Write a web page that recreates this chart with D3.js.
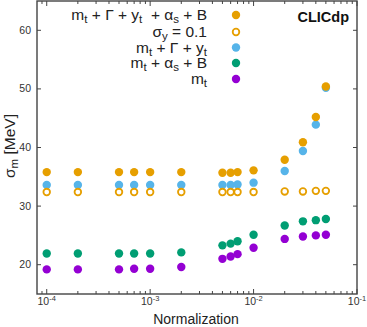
<!DOCTYPE html>
<html>
<head>
<meta charset="utf-8">
<script src="https://cdn.jsdelivr.net/npm/d3@7"></script>
<style>
  body { margin: 0; background: #fff; }
  svg { font-family: "Liberation Sans", Arial, sans-serif; }
</style>
</head>
<body>
<svg id="chart" width="367" height="327"></svg>
<script>
// data
var normalization = [1e-4, 2e-4, 5e-4, 7e-4, 1e-3, 2e-3, 5e-3, 6e-3, 7e-3, 1e-2, 2e-2, 3e-2, 4e-2, 5e-2];
var allParams   = [35.8, 35.8, 35.8, 35.8, 35.8, 35.8, 35.7, 35.7, 35.8, 36.1, 37.9, 40.9, 45.2, 50.4];
var sigmaY01    = [32.4, 32.4, 32.4, 32.4, 32.4, 32.4, 32.4, 32.4, 32.4, 32.4, 32.5, 32.5, 32.6, 32.6];
var mtGammaYt   = [33.6, 33.6, 33.6, 33.6, 33.6, 33.6, 33.6, 33.6, 33.7, 34.0, 36.0, 39.4, 43.9, 50.2];
var mtAlphaB    = [21.9, 21.9, 21.9, 21.9, 21.9, 22.1, 23.3, 23.6, 24.0, 25.1, 26.7, 27.4, 27.6, 27.8];
var mtOnly      = [19.2, 19.2, 19.2, 19.3, 19.3, 19.6, 21.0, 21.4, 21.8, 22.9, 24.4, 24.8, 25.0, 25.1];
var yTicks = [20, 30, 40, 50, 60];
var xTickExps = [-4, -3, -2, -1];

// legend rows, top to bottom; label parts: [text, isSubscript]
var series = [
  {values: allParams, color: "#E69F00", open: false,
   label: [["m", 0], ["t", 1], [" + \u0393 + y", 0], ["t", 1], ["\u00a0 + \u03b1", 0], ["s", 1], [" + B", 0]]},
  {values: sigmaY01,  color: "#E69F00", open: true,
   label: [["\u03c3", 0], ["y", 1], [" = 0.1", 0]]},
  {values: mtGammaYt, color: "#56B4E9", open: false,
   label: [["m", 0], ["t", 1], [" + \u0393 + y", 0], ["t", 1]]},
  {values: mtAlphaB,  color: "#009E73", open: false,
   label: [["m", 0], ["t", 1], [" + \u03b1", 0], ["s", 1], [" + B", 0]]},
  {values: mtOnly,    color: "#9400D3", open: false,
   label: [["m", 0], ["t", 1]]}
];

var svg = d3.select("#chart");
var pl = 37, pr = 357, pt = 1, pb = 294;

var x = d3.scaleLog().domain([Math.pow(10, -4.094), 0.1]).range([pl, pr]);
var y = d3.scaleLinear().domain([15, 65]).range([pb, pt]);

// frame
svg.append("rect")
  .attr("x", pl).attr("y", pt)
  .attr("width", pr - pl).attr("height", pb - pt)
  .attr("fill", "none").attr("stroke", "#444").attr("stroke-width", 1.4);

// x ticks (major + minor) on bottom and top, inward
var xt = [];
for (var e = -5; e < -1; e++) {
  for (var m = 1; m < 10; m++) {
    var v = m * Math.pow(10, e);
    if (v >= x.domain()[0] && v <= 0.1) xt.push({v: v, major: m === 1});
  }
}
xt.push({v: 0.1, major: true});
svg.selectAll(".xtb").data(xt).enter().append("line")
  .attr("x1", function (d) { return x(d.v); }).attr("x2", function (d) { return x(d.v); })
  .attr("y1", pb).attr("y2", function (d) { return pb - (d.major ? 5 : 3); })
  .attr("stroke", "#444").attr("stroke-width", 1);
svg.selectAll(".xtt").data(xt).enter().append("line")
  .attr("x1", function (d) { return x(d.v); }).attr("x2", function (d) { return x(d.v); })
  .attr("y1", pt).attr("y2", function (d) { return pt + (d.major ? 5 : 3); })
  .attr("stroke", "#444").attr("stroke-width", 1);

var xl = svg.selectAll(".xlab").data(xTickExps).enter().append("text")
  .attr("x", function (d) { return x(Math.pow(10, d)); })
  .attr("y", 305)
  .attr("text-anchor", "middle")
  .attr("font-size", 10.5).attr("fill", "#333");
xl.append("tspan").text("10");
xl.append("tspan").attr("dy", -4).attr("font-size", 7.5).text(function (d) { return d; });

// y ticks left and right, inward
yTicks.forEach(function (t) {
  svg.append("line").attr("x1", pl).attr("x2", pl + 4)
    .attr("y1", y(t)).attr("y2", y(t)).attr("stroke", "#444");
  svg.append("line").attr("x1", pr).attr("x2", pr - 4)
    .attr("y1", y(t)).attr("y2", y(t)).attr("stroke", "#444");
  svg.append("text").attr("x", 31).attr("y", y(t) + 3.5)
    .attr("text-anchor", "end").attr("font-size", 10.5).attr("fill", "#333")
    .text(t);
});

function dot(sel, s) {
  sel.attr("r", s.open ? 3.3 : 4.2)
    .attr("fill", s.open ? "#fff" : s.color)
    .attr("stroke", s.open ? s.color : "none")
    .attr("stroke-width", s.open ? 1.8 : 0);
}

// points: bottom series first, full-model orange on top
[4, 3, 2, 1, 0].forEach(function (i) {
  var s = series[i];
  svg.append("g").selectAll("circle")
    .data(normalization.map(function (n, j) { return {x: n, y: s.values[j]}; }))
    .enter().append("circle")
    .attr("cx", function (d) { return x(d.x); })
    .attr("cy", function (d) { return y(d.y); })
    .call(dot, s);
});

// legend
var rowY = [15, 32, 47.5, 63, 79];
series.forEach(function (s, i) {
  var t = svg.append("text").attr("x", 207).attr("y", rowY[i] + 5)
    .attr("text-anchor", "end").attr("font-size", 15.5).attr("fill", "#222");
  var shift = 0;
  s.label.forEach(function (p) {
    var target = p[1] ? 3 : 0;
    var ts = t.append("tspan").attr("dy", target - shift).text(p[0]);
    if (p[1]) ts.attr("font-size", 11.5);
    shift = target;
  });
  svg.append("circle").attr("cx", 236).attr("cy", rowY[i]).call(dot, s);
});

svg.append("text").attr("x", 349).attr("y", 22)
  .attr("text-anchor", "end").attr("font-size", 14.5).attr("font-weight", "bold")
  .attr("fill", "#111").text("CLICdp");

// axis titles
svg.append("text").attr("x", 196).attr("y", 324)
  .attr("text-anchor", "middle").attr("font-size", 14).attr("fill", "#222")
  .text("Normalization");

var yt = svg.append("text")
  .attr("transform", "translate(15,146) rotate(-90)")
  .attr("text-anchor", "middle").attr("font-size", 15.5).attr("fill", "#222");
yt.append("tspan").text("\u03c3");
yt.append("tspan").attr("dy", 3).attr("font-size", 11.5).text("m");
yt.append("tspan").attr("dy", -3).text(" [MeV]");
</script>
</body>
</html>
